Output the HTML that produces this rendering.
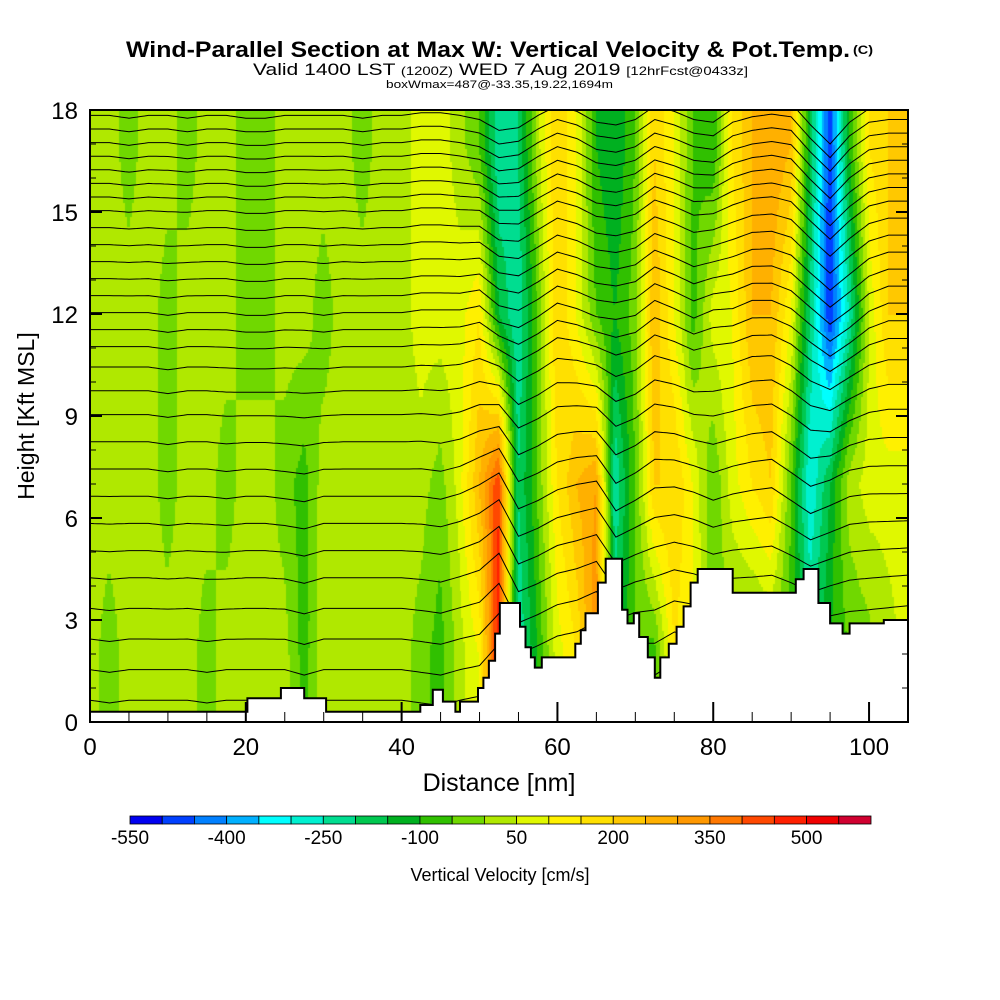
<!DOCTYPE html>
<html><head><meta charset="utf-8"><style>
html,body{margin:0;padding:0;background:#fff;width:1000px;height:1000px;overflow:hidden}
#wrap{position:relative;width:1000px;height:1000px}
canvas,svg{position:absolute;left:0;top:0}
</style></head><body>
<div id="wrap">
<canvas id="field" width="1000" height="1000"></canvas>
<svg id="svg" width="1000" height="1000" font-family="Liberation Sans, sans-serif">
<defs><clipPath id="pc"><rect x="90" y="110" width="818" height="612"/></clipPath></defs>
<text x="126" y="57" font-size="22" font-weight="bold" textLength="724" lengthAdjust="spacingAndGlyphs">Wind-Parallel Section at Max W: Vertical Velocity &amp; Pot.Temp.</text>
<text x="853" y="54" font-size="12" font-weight="bold" textLength="20" lengthAdjust="spacingAndGlyphs">(C)</text>
<text x="253" y="75" font-size="17" textLength="495" lengthAdjust="spacingAndGlyphs">Valid 1400 LST <tspan font-size="12">(1200Z)</tspan> WED 7 Aug 2019 <tspan font-size="12">[12hrFcst@0433z]</tspan></text>
<text x="386" y="88" font-size="11" textLength="227" lengthAdjust="spacingAndGlyphs">boxWmax=487@-33.35,19.22,1694m</text>
<g id="contours" clip-path="url(#pc)"></g>
<path id="terrain" fill="#fff" stroke="#000" stroke-width="2"/>
<rect x="90" y="110" width="818" height="612" fill="none" stroke="#000" stroke-width="2"/>
<g id="axes"></g>
<text x="499" y="791" font-size="25" text-anchor="middle">Distance [nm]</text>
<text transform="translate(34,416) rotate(-90)" font-size="23" text-anchor="middle">Height [Kft MSL]</text>
<g id="cbar"></g>
<text x="500" y="881" font-size="18" text-anchor="middle">Vertical Velocity [cm/s]</text>
</svg>
</div>
<script>
// ---- data ----
const levels = [-550,-500,-450,-400,-350,-300,-250,-200,-150,-100,-50,0,50,100,150,200,250,300,350,400,450,500,550,600];
const colors = ["#0000f0","#0040ff","#0080ff","#00b0ff","#00ffff","#00f0d0","#00dd90","#00c850","#00b020","#30c000","#70d800","#b0e800","#e0f800","#fff000","#ffe000","#ffc800","#ffb000","#ff9800","#ff7800","#ff4800","#ff2000","#f00000","#d00030"];
const cbarLabels = [-550,-400,-250,-100,50,200,350,500];
const xTicks = [0,20,40,60,80,100];
const yTicks = [0,3,6,9,12,15,18];
const wHeights = [2,7,12,17];
const w2  = [25,-25,25,25,25,25,-25,25,25,25,25,-75,25,25,25,25,25,-25,-75,25,100,500,-250,-100,75,150,350,-150,-50,-75,150,100,-25,-25,-50,-25,-75,-200,-100,-50,-25,25,75];
const w7  = [25,25,25,25,-25,25,25,-25,25,25,-25,-75,25,25,25,25,25,25,-25,75,250,450,-200,-50,150,250,300,-250,-50,200,200,100,-50,75,150,200,-50,-300,-150,25,75,75,75];
const w12 = [25,25,25,25,-25,25,25,25,-25,-25,25,25,-25,25,25,25,25,75,75,75,150,-150,-250,-50,200,100,-50,-100,-25,250,100,-75,75,100,250,250,100,-200,-500,-250,50,200,200];
const w17 = [25,25,-25,25,25,-25,25,25,-25,-25,25,25,25,25,-25,25,25,75,75,25,-50,-250,-200,25,200,100,-100,-150,-50,200,100,-50,-100,150,250,300,250,-150,-500,-100,150,200,200];
const terrainX = [0,20.2,24.5,27.5,30.3,42.4,44,45.3,46.9,47.5,49.8,50.5,51.2,52,52.6,55.2,55.9,56.6,57.1,58,62.3,63,63.6,65.2,66.2,68.3,69,69.8,70.5,71.6,72.5,73.2,74.3,75.3,76.2,77.1,78,82.5,90.6,91.6,93.5,95,96.6,97.5,101.9];
const terrainH = [0.3,0.7,1.0,0.7,0.3,0.5,0.95,0.6,0.3,0.6,1.0,1.3,1.8,2.6,3.5,2.8,2.2,1.9,1.6,1.9,2.3,2.7,3.2,4.1,4.8,3.3,2.9,3.2,2.5,1.9,1.3,1.9,2.3,2.8,3.4,4.1,4.5,3.8,4.2,4.5,3.5,2.9,2.6,2.9,3.0];
const thetaBase = [0.6,1.5,2.4,3.3,4.2,5.0,5.8,6.6,7.4,8.2,9.0,9.7,10.4,11.0,11.5,12.0,12.5,13.0,13.5,14.0,14.5,15.0,15.4,15.8,16.2,16.6,17.0,17.4,17.8];
// ---- scales ----
const X0=90,X1=908,Y0=722,Y1=110;
const xs = d => X0 + d/105*(X1-X0);
const ys = h => Y0 - h/18*(Y0-Y1);
const wRows=[w2,w7,w12,w17];
function wAt(d,h){
  const fi=Math.max(0,Math.min(41.999,d/2.5)), i=Math.floor(fi), t=fi-i;
  const row=r=>r[i]*(1-t)+r[i+1]*t;
  let k=0; if(h<=wHeights[0]) return row(wRows[0]);
  if(h>=wHeights[3]) return row(wRows[3]);
  while(h>wHeights[k+1]) k++;
  const s=(h-wHeights[k])/(wHeights[k+1]-wHeights[k]);
  return row(wRows[k])*(1-s)+row(wRows[k+1])*s;
}
function colorOf(v){
  for(let i=0;i<colors.length;i++) if(v<levels[i+1]) return colors[i];
  return colors[colors.length-1];
}
// field
const ctx=document.getElementById('field').getContext('2d');
ctx.save(); ctx.beginPath(); ctx.rect(X0,Y1,X1-X0,Y0-Y1); ctx.clip();
const dx=0.25, dh=0.1;
for(let d=0; d<105; d+=dx){
  for(let h=0; h<18; h+=dh){
    ctx.fillStyle=colorOf(wAt(d+dx/2,h+dh/2));
    const x=xs(d), y=ys(h+dh);
    ctx.fillRect(Math.floor(x),Math.floor(y),Math.ceil(xs(d+dx)-x)+1,Math.ceil(ys(h)-y)+1);
  }
}
ctx.restore();
const NS='http://www.w3.org/2000/svg';
function mk(tag,attrs,parent){const e=document.createElementNS(NS,tag);for(const k in attrs)e.setAttribute(k,attrs[k]);parent.appendChild(e);return e;}
// contours
const cg=document.getElementById('contours');
thetaBase.forEach((b,j)=>{
  let pts=[];
  for(let d=0; d<=105; d+=0.5){
    let h=b+wAt(d,b)*0.0016;
    pts.push(xs(d).toFixed(1)+','+ys(h).toFixed(1));
  }
  const p=mk('polyline',{points:pts.join(' '),fill:'none',stroke:'#000','stroke-width':1},cg);
  
  
});
// terrain
let tp='M'+xs(0)+','+ys(0);
terrainX.forEach((d,i)=>{
  const xe=i+1<terrainX.length?terrainX[i+1]:105;
  tp+=' L'+xs(d).toFixed(1)+','+ys(terrainH[i]).toFixed(1)+' L'+xs(xe).toFixed(1)+','+ys(terrainH[i]).toFixed(1);
});
tp+=' L'+xs(105)+','+ys(0)+' Z';
document.getElementById('terrain').setAttribute('d',tp);
// axes
const ag=document.getElementById('axes');
yTicks.forEach(v=>{
  const y=ys(v);
  mk('line',{x1:X0,x2:X0+12,y1:y,y2:y,stroke:'#000','stroke-width':2},ag);
  mk('line',{x1:X1-12,x2:X1,y1:y,y2:y,stroke:'#000','stroke-width':2},ag);
  const t=mk('text',{x:78,y:y+9,'font-size':24,'text-anchor':'end'},ag);
  t.textContent=v;
  
  
});
for(let v=1; v<18; v++){ if(v%3===0) continue; const y=ys(v);
  mk('line',{x1:X0,x2:X0+6,y1:y,y2:y,stroke:'#000','stroke-width':1},ag);
  mk('line',{x1:X1-6,x2:X1,y1:y,y2:y,stroke:'#000','stroke-width':1},ag);}
for(let v=5; v<105; v+=5){ const x=xs(v), major=v%20===0;
  mk('line',{x1:x,x2:x,y1:Y0,y2:Y0-(major?20:10),stroke:'#000','stroke-width':major?2:1},ag);}
xTicks.forEach(v=>{
  const t=mk('text',{x:xs(v),y:755,'font-size':24,'text-anchor':'middle'},ag);
  t.textContent=v;
  
  
});
// colorbar
const cb=document.getElementById('cbar');
const CX0=130,CX1=871,bw=(CX1-CX0)/colors.length;
colors.forEach((c,i)=>{
  const r=mk('rect',{x:CX0+i*bw,y:816,width:bw,height:8,fill:c,stroke:'#000','stroke-width':0.8},cb);
  
  
});
cbarLabels.forEach(v=>{
  const i=levels.indexOf(v);
  const t=mk('text',{x:CX0+i*bw,y:844,'font-size':19,'text-anchor':'middle'},cb);
  t.textContent=v;
  
  
});
</script>
</body></html>
